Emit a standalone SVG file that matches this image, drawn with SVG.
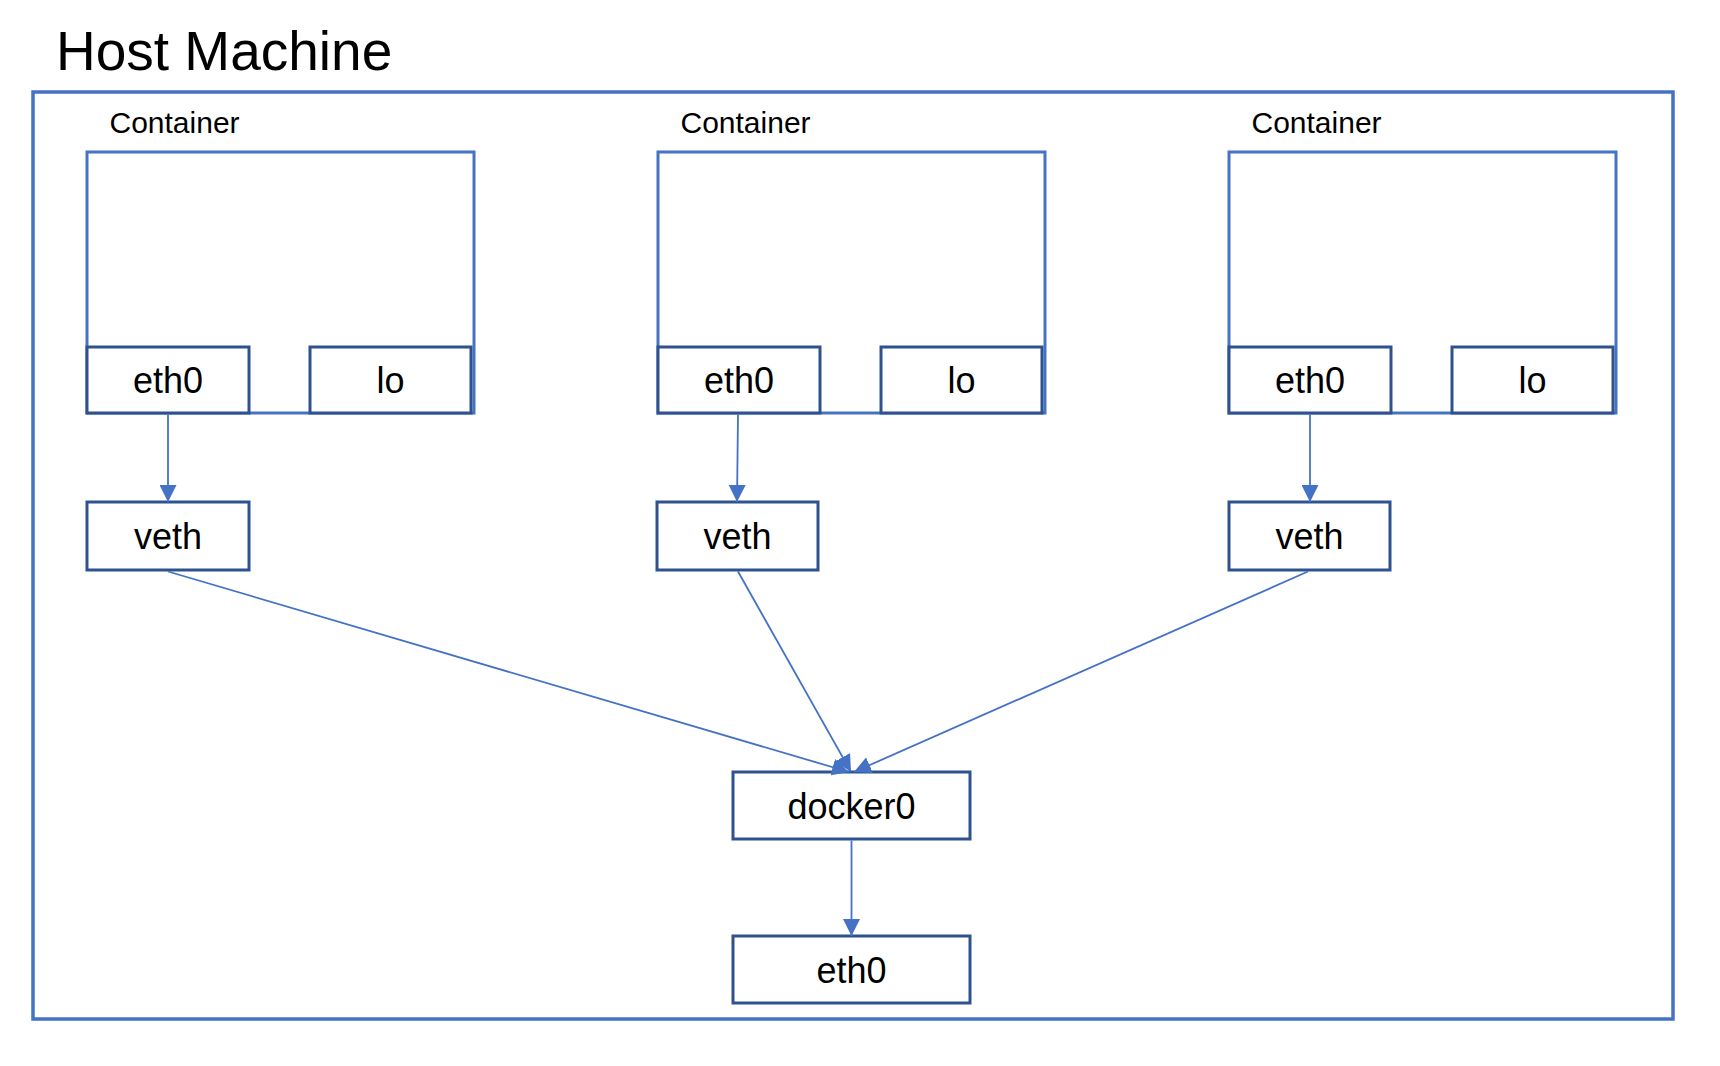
<svg xmlns="http://www.w3.org/2000/svg" width="1720" height="1066" viewBox="0 0 1720 1066">
<style>
text{font-family:"Liberation Sans",Arial,sans-serif;fill:#000}
.title{font-size:55px}
.clabel{font-size:30px}
.lbl{font-size:36px;text-anchor:middle}
.outer{fill:none;stroke:#4472C4;stroke-width:3.5}
.cont{fill:#fff;stroke:#4472C4;stroke-width:3}
.box{fill:#fff;stroke:#2F528F;stroke-width:3}
.conn{fill:none;stroke:#4472C4;stroke-width:1.8;marker-end:url(#arr)}
</style>
<defs>
<marker id="arr" markerUnits="userSpaceOnUse" markerWidth="17" markerHeight="17" refX="17" refY="8.5" orient="auto">
<path d="M0,0 L17,8.5 L0,17 z" fill="#4472C4"/>
</marker>
</defs>
<rect width="1720" height="1066" fill="#fff"/>
<g id="host">
<text class="title" x="56" y="70">Host Machine</text>
<rect class="outer" x="33" y="92" width="1640" height="927"/>
</g>
<g id="container1">
<text class="clabel" x="109.5" y="133">Container</text>
<rect class="cont" x="87" y="152" width="387" height="261"/>
</g>
<g id="c1-eth0"><rect class="box" x="87" y="347" width="162" height="66"/><text class="lbl" x="168" y="393">eth0</text></g>
<g id="c1-lo"><rect class="box" x="310" y="347" width="161" height="66"/><text class="lbl" x="390.5" y="393">lo</text></g>
<g id="container2">
<text class="clabel" x="680.5" y="133">Container</text>
<rect class="cont" x="658" y="152" width="387" height="261"/>
</g>
<g id="c2-eth0"><rect class="box" x="658" y="347" width="162" height="66"/><text class="lbl" x="739" y="393">eth0</text></g>
<g id="c2-lo"><rect class="box" x="881" y="347" width="161" height="66"/><text class="lbl" x="961.5" y="393">lo</text></g>
<g id="container3">
<text class="clabel" x="1251.5" y="133">Container</text>
<rect class="cont" x="1229" y="152" width="387" height="261"/>
</g>
<g id="c3-eth0"><rect class="box" x="1229" y="347" width="162" height="66"/><text class="lbl" x="1310" y="393">eth0</text></g>
<g id="c3-lo"><rect class="box" x="1452" y="347" width="161" height="66"/><text class="lbl" x="1532.5" y="393">lo</text></g>
<g id="veth1"><rect class="box" x="87" y="502" width="162" height="68"/><text class="lbl" x="168" y="549">veth</text></g>
<g id="veth2"><rect class="box" x="657" y="502" width="161" height="68"/><text class="lbl" x="737.5" y="549">veth</text></g>
<g id="veth3"><rect class="box" x="1229" y="502" width="161" height="68"/><text class="lbl" x="1309.5" y="549">veth</text></g>
<g id="docker0"><rect class="box" x="733" y="772" width="237" height="67"/><text class="lbl" x="851.5" y="819">docker0</text></g>
<g id="host-eth0"><rect class="box" x="733" y="936" width="237" height="67"/><text class="lbl" x="851.5" y="983">eth0</text></g>
<g id="connectors">
<line class="conn" x1="168" y1="414.5" x2="168" y2="502"/>
<line class="conn" x1="738" y1="414.5" x2="737" y2="502"/>
<line class="conn" x1="1310" y1="414.5" x2="1310" y2="502"/>
<line class="conn" x1="168" y1="571.5" x2="849" y2="772"/>
<line class="conn" x1="738" y1="571.5" x2="851" y2="772"/>
<line class="conn" x1="1308" y1="571.5" x2="854" y2="772"/>
<line class="conn" x1="851.5" y1="840.5" x2="851.5" y2="936"/>
</g>
</svg>
